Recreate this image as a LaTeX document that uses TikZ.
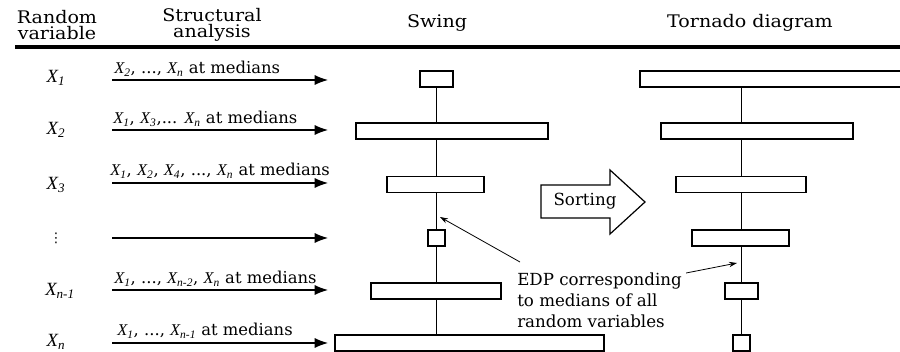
\documentclass[tikz,border=0pt]{standalone}
\usepackage{fontspec}
\setmainfont{DejaVu Serif}
\newfontfamily\headfont[FakeStretch=1.1]{DejaVu Serif}
\newfontfamily\varfont{Liberation Serif}
\newfontfamily\symfont{DejaVu Sans}
\usetikzlibrary{arrows.meta, positioning, fit, backgrounds}
\newcommand{\rv}[1]{{\varfont\itshape X\textsubscript{#1}}}

\begin{document}
\begin{tikzpicture}[
      x=0.75pt, y=-0.75pt,
      head/.style={font=\headfont\fontsize{13}{11.5}\selectfont, align=center, inner sep=0},
      lbl/.style={font=\fontsize{12.3}{14}\selectfont, anchor=base west, inner sep=0},
      var/.style={font=\fontsize{14}{16}\selectfont, inner sep=0},
      bar/.style={draw, fill=white, line width=0.8pt, inner sep=0},
      arr/.style={-{Latex[length=10pt,width=7.5pt]}, line width=0.8pt},
      note/.style={-{Stealth[length=6pt,width=4pt]}, line width=0.6pt},
  ]
  \useasboundingbox (0,0) rectangle (900,352);

  %% Header
  \node[head] (rv) at (57,25)  {Random\\variable};
  \node[head] (sa) at (212,25) {Structural\\analysis};
  \node[head] (sw) at (437,23) {Swing};
  \node[head] (td) at (750,23) {Tornado diagram};
  \draw[line width=2.6pt] (15,47) -- (902,47);

  %% Random variables
  \node[var] (x1) at (56,78)  {\rv{1}};
  \node[var] (x2) at (56,130) {\rv{2}};
  \node[var] (x3) at (56,185) {\rv{3}};
  \node[var] (x4) at (56,238) {\symfont\fontsize{10}{10}\selectfont ⋮};
  \node[var] (x5) at (60,291) {\rv{n-1}};
  \node[var] (x6) at (56,342) {\rv{n}};

  %% Structural analysis arrows
  \foreach \n/\y in {1/80, 2/130, 3/183, 4/238, 5/290, 6/343} {
    \coordinate (in\n)  at (112,\y);
    \coordinate (out\n) at (328,\y);
    \draw[arr] (in\n) -- (out\n);
  }
  \node[lbl] (m1) at (114,74)  {\rv{2}, ..., \rv{n} at medians};
  \node[lbl] (m2) at (113,124) {\rv{1}, \rv{3},... \rv{n} at medians};
  \node[lbl] (m3) at (110,176) {\rv{1}, \rv{2}, \rv{4}, ..., \rv{n} at medians};
  \node[lbl] (m5) at (114,284) {\rv{1}, ..., \rv{n-2}, \rv{n} at medians};
  \node[lbl] (m6) at (117,336) {\rv{1}, ..., \rv{n-1} at medians};

  %% Swing
  \foreach \n/\l/\r/\y in {1/16/17/79, 2/80/112/131, 3/49/48/184.5,
                           4/8/9/238, 5/65/65/291, 6/101/168/343}
    \node[bar, fit={(436-\l,\y-8) (436+\r,\y+8)}] (s\n) {};

  %% Tornado diagram
  \foreach \n/\l/\r/\y in {1/101/168/79, 2/80/112/131, 3/65/65/184.5,
                           4/49/48/238, 5/16/17/291, 6/8/9/343}
    \node[bar, fit={(741-\l,\y-8) (741+\r,\y+8)}] (t\n) {};

  \begin{scope}[on background layer]
    \draw[line width=0.8pt] (s1) -- (s1 |- s6);
    \draw[line width=0.8pt] (t6 |- t1) -- (t6);
  \end{scope}

  %% Sorting
  \draw[line width=0.9pt, fill=white] (541,185) -- (610,185) -- (610,170) -- (645,202)
        -- (610,234) -- (610,218) -- (541,218) -- cycle;
  \node[font=\fontsize{12.5}{14}\selectfont] (sort) at (585,201) {Sorting};

  %% EDP note
  \node[font=\fontsize{12.5}{15.5}\selectfont, align=left, anchor=north west, inner sep=0]
        (edp) at (517,273) {EDP corresponding\\to medians of all\\random variables};
  \coordinate (swingpt) at (440,217);
  \coordinate (tornpt)  at (737,263);
  \draw[note] ([shift={(3,-11)}]edp.north west) -- (swingpt);
  \draw[note] ([shift={(4,0)}]edp.north east) -- (tornpt);

\end{tikzpicture}
\end{document}
